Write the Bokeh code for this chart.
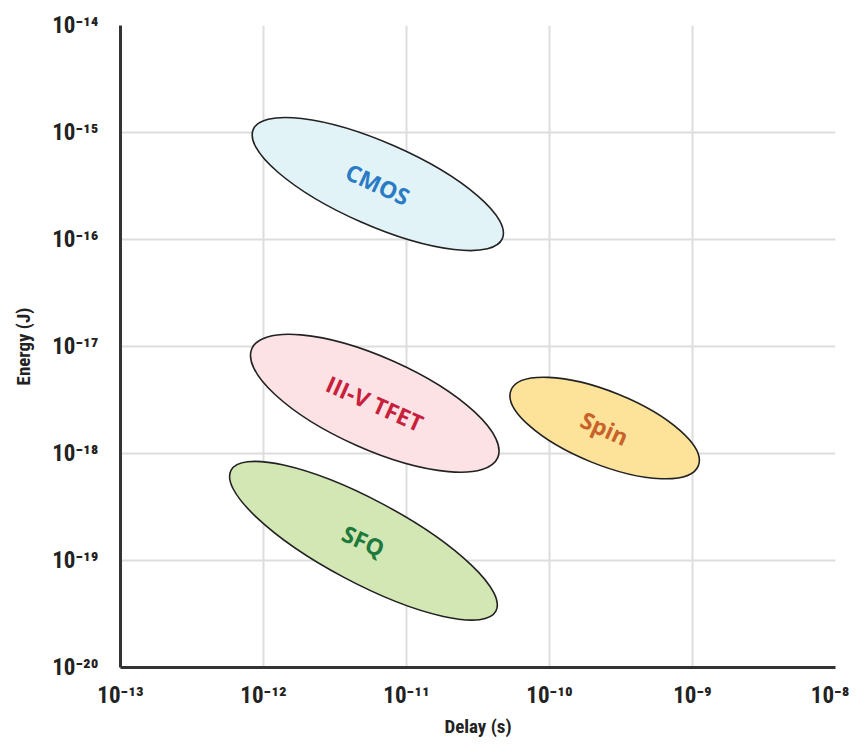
from bokeh.plotting import figure
from bokeh.models import Range1d, FixedTicker, CustomJSTickFormatter, ColumnDataSource
from bokeh.embed import file_html
from bokeh.resources import INLINE
from bokeh.core.properties import value
import math

# ---------------- data ----------------
technologies = ["CMOS", "III-V TFET", "SFQ", "Spin"]
delay_center = [6.3e-12, 6.0e-12, 5.0e-12, 2.43e-10]      # s
energy_center = [3.3e-16, 2.95e-18, 1.53e-19, 1.73e-18]   # J

x_exps = [-13, -12, -11, -10, -9, -8]
x_tick_labels = ["10⁻¹³", "10⁻¹²", "10⁻¹¹", "10⁻¹⁰", "10⁻⁹", "10⁻⁸"]
y_exps = [-20, -19, -18, -17, -16, -15, -14]
y_tick_labels = ["10⁻²⁰", "10⁻¹⁹", "10⁻¹⁸", "10⁻¹⁷", "10⁻¹⁶", "10⁻¹⁵", "10⁻¹⁴"]

# ---------------- styles ----------------
ell_w = [272, 269, 300, 202]        # screen px
ell_h = [83, 92, 83, 73]
ell_angle_deg = [-23.7, -24, -28, -22]
fills = ["#e2f3f8", "#fde2e5", "#d3e7b4", "#fde39a"]
text_colors = ["#2b7bc4", "#c8203c", "#1e7a3c", "#c8622a"]
text_angle_deg = [-25, -24, -24, -24]

src = ColumnDataSource(dict(
    x=delay_center, y=energy_center, w=ell_w, h=ell_h,
    a=[math.radians(d) for d in ell_angle_deg],
    ta=[math.radians(d) for d in text_angle_deg],
    fill=fills, tc=text_colors, label=technologies,
))

p = figure(width=849, height=740, x_axis_type="log", y_axis_type="log",
           x_range=Range1d(10.0 ** x_exps[0], 10.0 ** x_exps[-1]),
           y_range=Range1d(10.0 ** y_exps[0], 10.0 ** y_exps[-1]),
           output_backend="svg", toolbar_location=None,
           min_border_left=120, min_border_right=14,
           min_border_top=25, min_border_bottom=68)
p.outline_line_color = None
p.background_fill_color = "white"

p.xaxis.ticker = FixedTicker(ticks=[10.0 ** e for e in x_exps])
p.yaxis.ticker = FixedTicker(ticks=[10.0 ** e for e in y_exps])
code = """
const e = Math.round(Math.log10(tick));
const i = exps.indexOf(e);
return i >= 0 ? labels[i] : "";
"""
p.xaxis.formatter = CustomJSTickFormatter(args=dict(exps=x_exps, labels=x_tick_labels), code=code)
p.yaxis.formatter = CustomJSTickFormatter(args=dict(exps=y_exps, labels=y_tick_labels), code=code)

font = "Roboto Condensed, Roboto"
for ax in (p.xaxis, p.yaxis):
    ax.major_tick_line_color = None
    ax.minor_tick_line_color = None
    ax.axis_line_color = "#333333"
    ax.axis_line_width = 3
    ax.major_label_text_font = font
    ax.major_label_text_font_style = "bold"
    ax.major_label_text_font_size = "23px"
    ax.major_label_text_color = "#222222"
    ax.axis_label_text_font = font
    ax.axis_label_text_font_style = "bold"
    ax.axis_label_text_font_size = "19px"
    ax.axis_label_text_color = "#222222"

p.xaxis.axis_label = "Delay (s)"
p.yaxis.axis_label = "Energy (J)"
p.xaxis.major_label_standoff = 8
p.yaxis.major_label_standoff = 16
p.xaxis.axis_label_standoff = 3
p.yaxis.axis_label_standoff = 14

p.grid.grid_line_color = "#dddddd"
p.grid.grid_line_width = 2

p.ellipse(x="x", y="y", width="w", height="h", angle="a", source=src,
          width_units="screen", height_units="screen",
          fill_color="fill", line_color="#222222", line_width=1.6)
p.text(x="x", y="y", text="label", angle="ta", source=src,
       text_color="tc", text_font=value("Open Sans"), text_font_size="23px",
       text_font_style="bold",
       text_align="center", text_baseline="middle")

open("out.html", "w").write(file_html(p, INLINE))
